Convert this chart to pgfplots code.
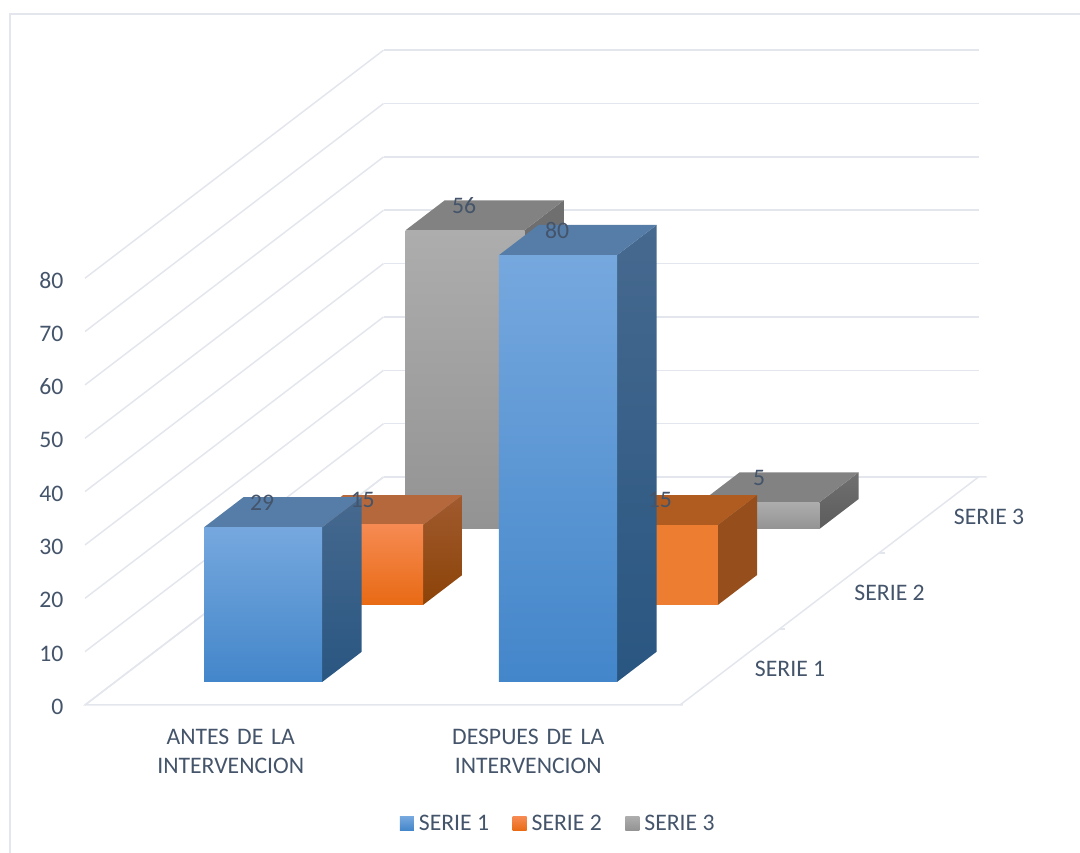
\documentclass[border=0pt]{standalone}
\usepackage{fontspec}
\setmainfont{Carlito}
\usepackage{pgfplots}
\pgfplotsset{compat=1.18}
\definecolor{gridc}{HTML}{E3E6EC}
\definecolor{textc}{HTML}{44546A}
% one 3D column: x0 x1 y0 y1 height, then the styles of its top, side and front faces
\newcommand{\column}[8]{%
  \addplot3[forget plot,draw=none,#7] coordinates {(#2,#3,0)(#2,#4,0)(#2,#4,#5)(#2,#3,#5)} --cycle;
  \addplot3[forget plot,draw=none,#6] coordinates {(#1,#3,#5)(#2,#3,#5)(#2,#4,#5)(#1,#4,#5)} --cycle;
  \addplot3[forget plot,draw=none,#8] coordinates {(#1,#3,0)(#2,#3,0)(#2,#3,#5)(#1,#3,#5)} --cycle;
}
\definecolor{BlT}{HTML}{76A8DE}\definecolor{BlM}{HTML}{5A9DE0}\definecolor{BlB}{HTML}{4386CA}
\definecolor{BlSt}{HTML}{46698F}\definecolor{BlSb}{HTML}{295681}\definecolor{BlTop}{HTML}{567DA8}
\definecolor{OrT}{HTML}{F68A52}\definecolor{OrM}{HTML}{F87A25}\definecolor{OrB}{HTML}{E86A14}
\definecolor{OrSt}{HTML}{A05A2E}\definecolor{OrSb}{HTML}{8C4308}\definecolor{OrTop}{HTML}{B5683C}
\definecolor{OrF}{HTML}{ED7D31}\definecolor{OrS}{HTML}{964F1C}\definecolor{OrTopB}{HTML}{B05C20}
\definecolor{GrT}{HTML}{ADADAD}\definecolor{GrB}{HTML}{939393}
\definecolor{GrSt}{HTML}{707070}\definecolor{GrSb}{HTML}{5C5C5C}\definecolor{GrTop}{HTML}{828282}
\begin{document}
\begin{tikzpicture}
\path[use as bounding box] (-85pt,-148pt) rectangle (995pt,705pt);
\draw[gridc,line width=1.6pt] (-75pt,-148pt) -- (-75pt,691pt) -- (995pt,691pt);
\begin{axis}[
  x={(297.5pt,0pt)}, y={(99.5pt,76pt)}, z={(0pt,5.335pt)},
  xmin=0,xmax=2,ymin=0,ymax=3,zmin=0,zmax=80,
  clip=false,
  axis line style={draw=none},
  major tick length=0pt,
  zmajorgrids=true,
  grid style={gridc,line width=1.5pt},
  xtick={0.5,1.5},
  xticklabels={ANTES DE LA\\INTERVENCION,DESPUES DE LA\\INTERVENCION},
  ytick={0.5,1.5,2.5},
  yticklabels={SERIE 1,SERIE 2,SERIE 3},
  ztick={0,10,...,80},
  /pgf/number format/assume math mode=true,
  ticklabel style={font=\fontsize{23.7}{29}\selectfont,text=textc},
  xticklabel style={align=center,anchor=north,yshift=-21pt,xshift=-3pt,text width=220pt},
  yticklabel style={anchor=west,xshift=21.7pt,yshift=-2pt},
  zticklabel style={anchor=east,xshift=-18pt,yshift=-2pt},
  legend columns=3,
  legend cell align=left,
  legend style={draw=none,fill=none,at={(axis description cs:0.5297,-0.181)},anchor=center,
    font=\fontsize{23.7}{28}\selectfont,text=textc,
    /tikz/every odd column/.append style={column sep=3pt},
    /tikz/every even column/.append style={column sep=21.5pt}},
  legend image code/.code={\path[#1,draw=none] (0pt,-7pt) rectangle (14pt,7pt);},
]
% floor outline and the small tick marks along its right edge
\addplot3[forget plot,gridc,line width=1.5pt] coordinates {(0,3,0)(0,0,0)(2.01,0,0)};
\addplot3[forget plot,gridc,line width=1.5pt] coordinates {(2,0,0)(2,3,0)(2.027,3,0)};
\addplot3[forget plot,gridc,line width=1.5pt] coordinates {(2,1,0)(2.02,1,0)};
\addplot3[forget plot,gridc,line width=1.5pt] coordinates {(2,2,0)(2.02,2,0)};

% back row
\column{0.303}{0.703}{2.316}{2.71}{56}{fill=GrTop}{top color=GrSt,bottom color=GrSb}{top color=GrT,bottom color=GrB}
\column{1.294}{1.694}{2.316}{2.71}{5}{fill=GrTop}{top color=GrSt,bottom color=GrSb}{top color=GrT,bottom color=GrB}
% middle row
\column{0.296}{0.696}{1.316}{1.71}{15}{fill=OrTop}{top color=OrSt,bottom color=OrSb}{top color=OrT,middle color=OrM,bottom color=OrB}
\column{1.287}{1.687}{1.316}{1.71}{15}{fill=OrTopB}{fill=OrS}{fill=OrF}
% front row
\column{0.299}{0.696}{0.303}{0.70}{29}{fill=BlTop}{top color=BlSt,bottom color=BlSb}{top color=BlT,middle color=BlM,bottom color=BlB}
\column{1.29}{1.687}{0.303}{0.70}{80}{fill=BlTop}{top color=BlSt,bottom color=BlSb}{top color=BlT,middle color=BlM,bottom color=BlB}

% value labels, centred on the column tops
\addplot3[forget plot,draw=none,mark=none,point meta=z,
  nodes near coords,
  nodes near coords style={font=\fontsize{23.7}{28}\selectfont,text=textc,anchor=center,xshift=-20pt,yshift=10pt,
    /pgf/number format/assume math mode=true}]
  coordinates {(0.503,2.508,56)(1.494,2.508,5)(0.496,1.508,15)(1.495,1.508,15)(0.497,0.496,29)(1.488,0.496,80)};

\addlegendimage{top color=BlT,middle color=BlM,bottom color=BlB}\addlegendentry{SERIE 1}
\addlegendimage{top color=OrT,middle color=OrM,bottom color=OrB}\addlegendentry{SERIE 2}
\addlegendimage{top color=GrT,bottom color=GrB}\addlegendentry{SERIE 3}
\end{axis}
\end{tikzpicture}
\end{document}
